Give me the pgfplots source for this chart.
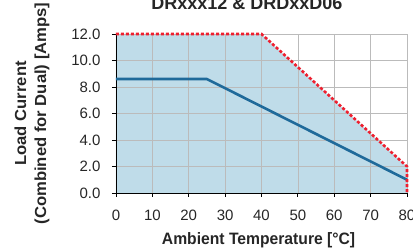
\documentclass[border=0pt]{standalone}
\usepackage{fontspec}
\setmainfont{Liberation Sans}
\newfontfamily\cond[FakeStretch=0.95]{Liberation Sans}
\newfontfamily\condt[FakeStretch=1.0]{Liberation Sans}
\newfontfamily\condy[FakeStretch=1.04]{Liberation Sans}
\usepackage{pgfplots}
\pgfplotsset{compat=1.18}
\definecolor{fillblue}{HTML}{BFDCE9}
\definecolor{lineblue}{HTML}{1F6A9A}
\definecolor{dashred}{HTML}{EE2030}
\definecolor{gridgray}{HTML}{BBBBBB}
\begin{document}
\begin{tikzpicture}
\begin{axis}[
  set layers,
  at={(0,0)}, anchor=south west,
  scale only axis, width=291pt, height=159pt,
  xmin=0, xmax=80, ymin=0, ymax=12,
  axis lines=left, axis line style={-, black, line width=0.8pt},
  xtick={0,10,...,80}, ytick={0,2,...,12},
  yticklabel style={/pgf/number format/fixed, /pgf/number format/fixed zerofill, /pgf/number format/precision=1},
  /pgf/number format/assume math mode=true,
  tick style={black, line width=0.8pt},
  tick align=outside, major tick length=4pt,
  ticklabel style={font=\fontsize{15}{17}\selectfont, text=black!85},
  xticklabel style={yshift=-9pt},
  yticklabel style={xshift=-8pt},
  grid=major, grid style={gridgray, line width=0.7pt},
  clip=false,
  xlabel={\cond\bfseries Ambient Temperature [°C]},
  xlabel style={at={(rel axis cs:0.49,0)}, anchor=base, yshift=-52pt, font=\fontsize{16.5}{18}\selectfont, text=black!85},
  ylabel={\condy\bfseries Load Current\\\condy\bfseries(Combined for Dual) [Amps]},
  ylabel style={at={(rel axis cs:0,0.5)}, anchor=center, rotate=0, yshift=84pt, align=center, font=\fontsize{16}{20}\selectfont, text=black!85},
]
\addplot[on layer=axis background, draw=none, fill=fillblue] coordinates {(0,0) (0,12) (40,12) (80,2) (80,0)} -- cycle;
\addplot[lineblue, line width=2.6pt] coordinates {(0,8.6) (25,8.6) (80,1.0)};
\addplot[dashred, line width=2.6pt, dash pattern=on 3pt off 2pt] coordinates {(0,12) (40,12) (80,2) (80,0)};
\end{axis}
\node[anchor=base, font=\fontsize{18}{20}\selectfont\condt\bfseries, text=black!85] at (131pt,183pt) {DRxxx12 \& DRDxxD06};
\pgfresetboundingbox
\useasboundingbox (-116pt,-56pt) rectangle (297pt,193pt);
\end{tikzpicture}
\end{document}
